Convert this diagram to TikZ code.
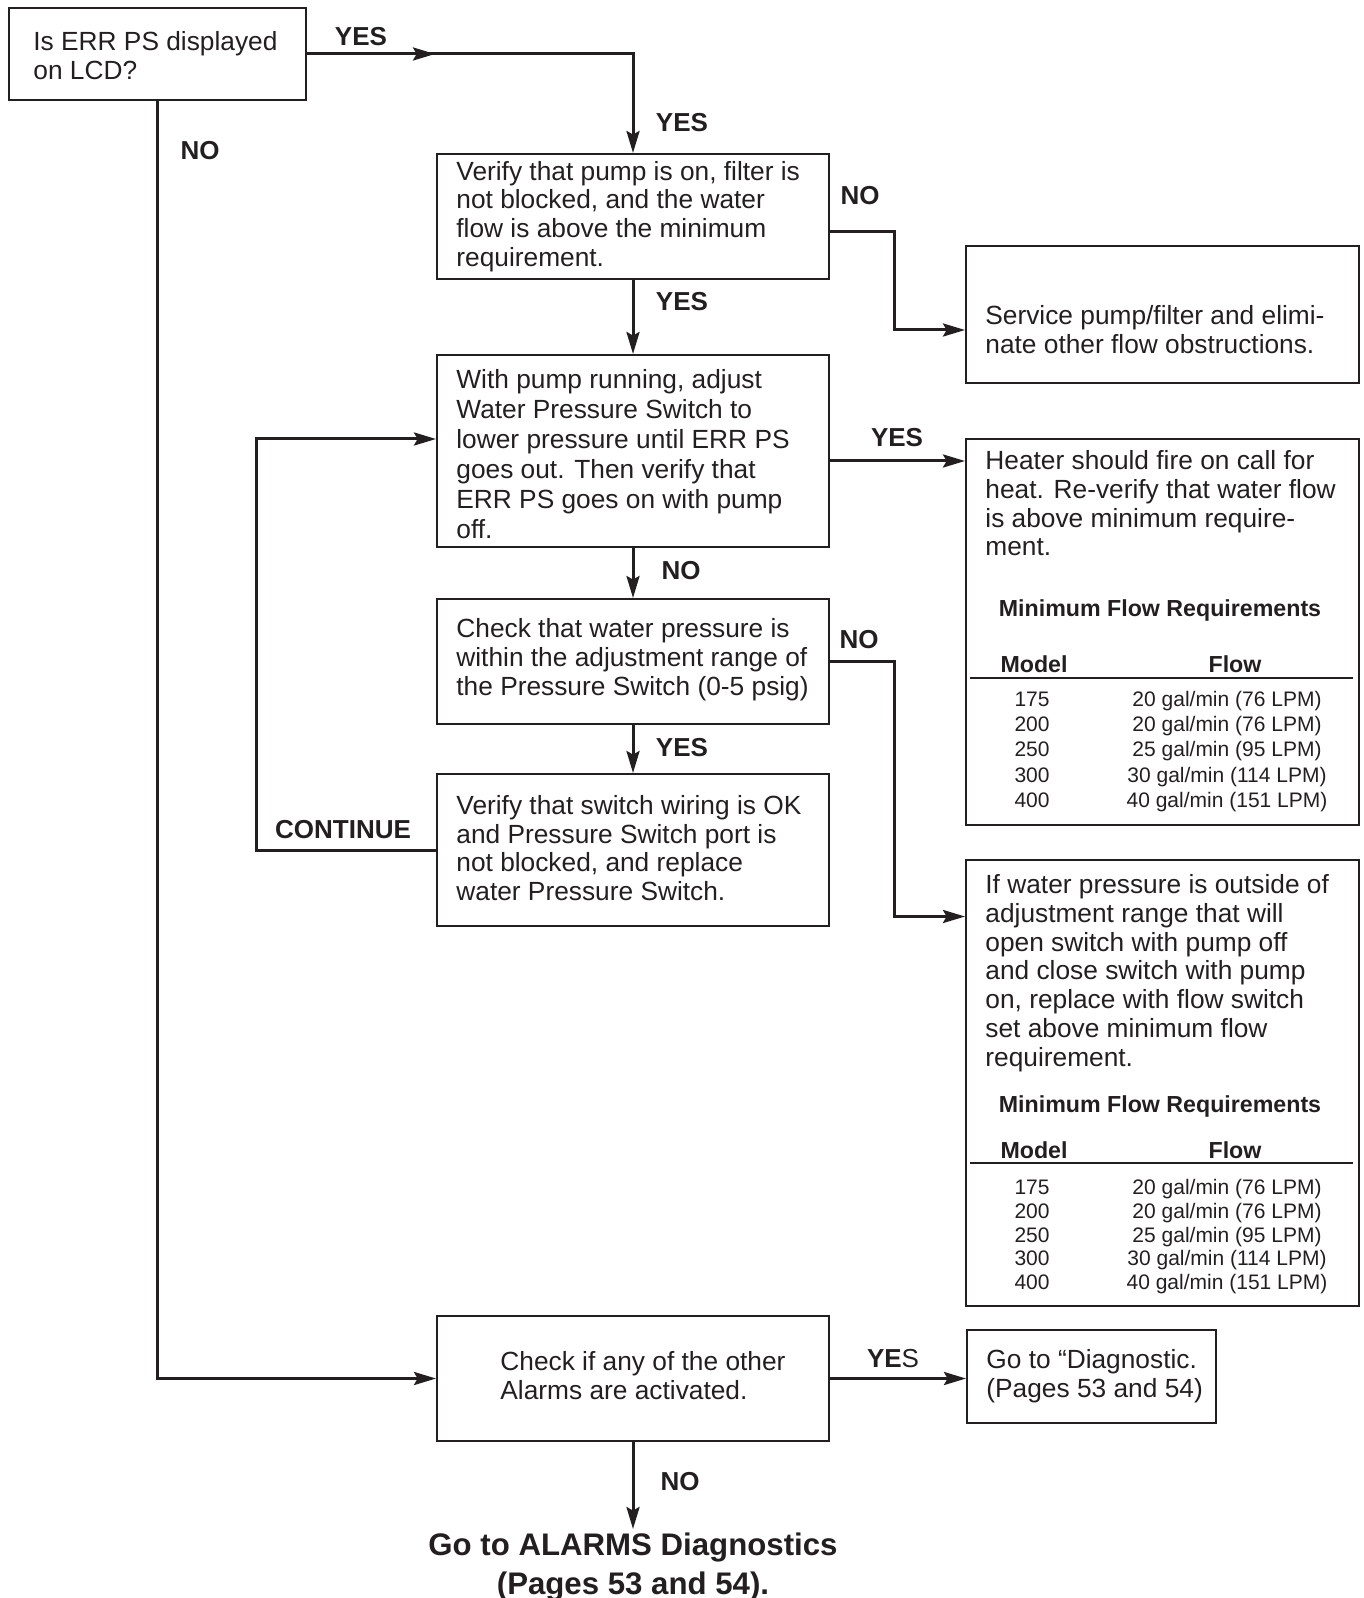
\documentclass[tikz,border=0pt]{standalone}
\usepackage{fontspec}
\setmainfont{Liberation Sans}
\usetikzlibrary{arrows.meta,positioning}
\definecolor{ink}{RGB}{35,31,32}
\newcommand\bodyfont{\fontsize{13.15pt}{14.4pt}\selectfont}
\newcommand\lblfont{\fontsize{13pt}{15pt}\selectfont}
\newcommand\tabheadfont{\fontsize{11.6pt}{13pt}\selectfont\bfseries}
\newcommand\tabrowfont{\fontsize{10.5pt}{12pt}\selectfont}
\newcommand\goalfont{\fontsize{15.6pt}{19.5pt}\selectfont\bfseries}

\begin{document}
\begin{tikzpicture}[x=0.5pt,y=-0.5pt,>={Stealth[length=11pt,width=6.5pt,inset=1.8pt]},
  box/.style={draw=ink,line width=1pt,anchor=north west,inner sep=0pt},
  txt/.style={anchor=west,align=left,inner sep=0pt,text=ink,font=\bodyfont},
  lbl/.style={text=ink,font=\lblfont\bfseries,inner sep=0pt},
  thead/.style={anchor=base,text=ink,font=\tabheadfont,inner sep=0pt},
  trow/.style={anchor=base,text=ink,font=\tabrowfont,inner sep=0pt},
  link/.style={ink,line width=1.5pt}]
\useasboundingbox (0,0) rectangle (1363,1598);

% boxes of the left column
\node[box,minimum width=148.5pt,minimum height=46pt] (start) at (8,7) {};
\node[txt] (startt) at ([xshift=12.5pt,yshift=-1pt]start.west) {Is ERR PS displayed\\on LCD?};
\node[box,minimum width=196pt,minimum height=62.5pt] (verify) at (436,153) {};
\node[txt] (verifyt) at ([xshift=10pt]verify.west)
  {Verify that pump is on, filter is\\not blocked, and the water\\flow is above the minimum\\requirement.};
\node[box,minimum width=196pt,minimum height=96pt] (adjust) at (436,354) {};
\node[txt,font=\fontsize{13.15pt}{15pt}\selectfont] (adjustt) at ([xshift=10pt,yshift=-1.5pt]adjust.west)
  {With pump running, adjust\\Water Pressure Switch to\\lower pressure until ERR PS\\goes out. Then verify that\\ERR PS goes on with pump\\off.};
\node[box,minimum width=196pt,minimum height=62.5pt] (check) at (436,598) {};
\node[txt] (checkt) at ([xshift=10pt,yshift=1pt]check.west)
  {Check that water pressure is\\within the adjustment range of\\the Pressure Switch (0-5 psig)};
\node[box,minimum width=196pt,minimum height=76pt] (wiring) at (436,773) {};
\node[txt] (wiringt) at ([xshift=10pt,yshift=1pt]wiring.west)
  {Verify that switch wiring is OK\\and Pressure Switch port is\\not blocked, and replace\\water Pressure Switch.};
\node[box,minimum width=196pt,minimum height=62.5pt] (any) at (436,1315) {};
\node[txt] (anyt) at ([xshift=32pt,yshift=1.5pt]any.west) {Check if any of the other\\Alarms are activated.};
\node[font=\goalfont,text=ink,align=center,inner sep=1.5pt,below=43.5pt of any] (goal)
  {Go to ALARMS Diagnostics\\(Pages 53 and 54).};

% boxes of the right column
\node[box,minimum width=196.5pt,minimum height=68.5pt] (service) at (965,245) {};
\node[txt] (servicet) at ([xshift=10pt,yshift=-7.5pt]service.west)
  {Service pump/filter and elimi-\\nate other flow obstructions.};
\node[box,minimum width=196.5pt,minimum height=193pt] (heat) at (965,438) {};
\node[txt,anchor=north west] (heatt) at ([xshift=10pt,yshift=-6pt]heat.north west)
  {Heater should fire on call for\\heat. Re-verify that water flow\\is above minimum require-\\ment.};
\node[box,minimum width=196.5pt,minimum height=223pt] (ifwater) at (965,859) {};
\node[txt,anchor=north west] (ifwatert) at ([xshift=10pt,yshift=-7.5pt]ifwater.north west)
  {If water pressure is outside of\\adjustment range that will\\open switch with pump off\\and close switch with pump\\on, replace with flow switch\\set above minimum flow\\requirement.};
\node[box,minimum width=124.5pt,minimum height=46.5pt] (diag) at (966,1329) {};
\node[txt] (diagt) at ([xshift=10pt]diag.west) {Go to “Diagnostic.\\(Pages 53 and 54)};

% flow tables
\foreach \ytitle/\yhead/\yrule/\yrow/\ystep [count=\k] in {608/664/678/699/25.2,1104/1150/1163/1187/23.8}{
  \node[thead] (title\k) at (1160,\ytitle+8) {Minimum Flow Requirements};
  \node[thead] (model\k) at (1034,\yhead+8) {Model};
  \node[thead] (flow\k) at (1235,\yhead+8) {Flow};
  \draw[ink,line width=0.8pt] (970,\yrule) -- (1353,\yrule);
  \foreach \m/\f [count=\i] in {175/{20 gal/min (76 LPM)},200/{20 gal/min (76 LPM)},
      250/{25 gal/min (95 LPM)},300/{30 gal/min (114 LPM)},400/{40 gal/min (151 LPM)}}{
    \node[trow] (m\k-\i) at (1032,{\yrow+(\i-1)*\ystep+7.5}) {\m};
    \node[trow] (f\k-\i) at (1227,{\yrow+(\i-1)*\ystep+7.5}) {\f};
  }
}

% connectors
\draw[link,->] (start.east) -| (verify.north);
\draw[link,->] (start.east) -- ++(64pt,0);
\draw[link,->] (start.south) |- (any.west);
\draw[link,->] (verify.south) -- (adjust.north);
\draw[link,->] ([yshift=-7.75pt]verify.east) -- ++(32pt,0) |- ([yshift=-7.75pt]service.west);
\draw[link,->] ([yshift=-5pt]adjust.east) -- ([yshift=-5pt]adjust.east -| heat.west);
\draw[link,->] (adjust.south) -- (check.north);
\draw[link,->] (check.east) -- ++(32pt,0) |- ([yshift=-28.75pt]ifwater.north west);
\draw[link,->] (check.south) -- (wiring.north);
\draw[link,->] (wiring.west) -- ++(-90pt,0) |- ([yshift=6pt]adjust.west);
\draw[link,->] (any.east) -- (any.east -| diag.west);
\draw[link,->] (any.south) -- (goal.north);

% labels
\node[lbl] (yes1) at (361,37) {YES};
\node[lbl] (yes2) at (682,123) {YES};
\node[lbl] (no1) at (200,151) {NO};
\node[lbl] (no2) at (860,196) {NO};
\node[lbl] (yes3) at (682,302) {YES};
\node[lbl] (yes4) at (897,438) {YES};
\node[lbl] (no3) at (681,571) {NO};
\node[lbl] (no4) at (859,640) {NO};
\node[lbl] (yes5) at (682,748) {YES};
\node[lbl] (cont) at (343,830) {CONTINUE};
\node[lbl,font=\lblfont] (yes6) at (893,1359) {\textbf{YE}S};
\node[lbl] (no5) at (680,1482) {NO};
\end{tikzpicture}
\end{document}
